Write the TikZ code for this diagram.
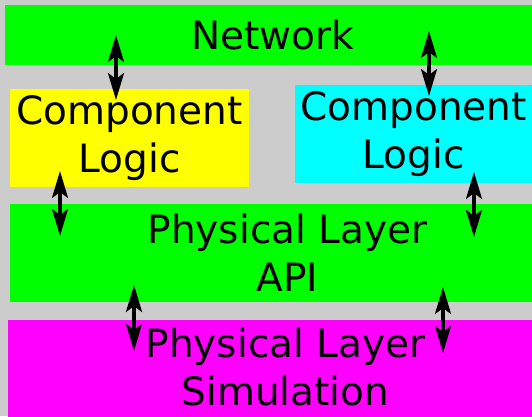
\documentclass[tikz,border=0pt]{standalone}
\usepackage{fontspec}
\setmainfont{DejaVu Sans}
\usetikzlibrary{arrows.meta}
\definecolor{bggray}{HTML}{CCCCCC}
\definecolor{netgreen}{HTML}{00FF00}
\definecolor{logicyellow}{HTML}{FFFF00}
\definecolor{logiccyan}{HTML}{00FFFF}
\definecolor{simmagenta}{HTML}{FF00FF}
\begin{document}
\begin{tikzpicture}[x=1pt,y=-1pt,
  layer/.style={rectangle, inner sep=0pt, outer sep=0pt, align=center,
    font=\fontsize{39}{48}\selectfont},
  link/.style={{Stealth[length=27pt,width=16pt,inset=6pt]}-{Stealth[length=27pt,width=16pt,inset=6pt]},
    line width=3.5pt}]
\useasboundingbox (0,0) rectangle (532,416);
\clip (0,0) rectangle (532,416);
\fill[bggray] (0,0) rectangle (532,416);

% layer boxes
\node[layer, fill=netgreen, minimum width=535pt, minimum height=60pt] (network) at (272.5,35) {Network};
\node[layer, fill=logicyellow, minimum width=239pt, minimum height=98pt] (logicA) at (129.5,138) {Component\\Logic};
\node[layer, fill=logiccyan, minimum width=237pt, minimum height=98pt] (logicB) at (413.5,134) {Component\\Logic};
\node[layer, fill=netgreen, minimum width=555pt, minimum height=98pt] (api) at (287.5,253) {Physical Layer\\API};
\node[layer, fill=simmagenta, minimum width=555pt, minimum height=100pt, text depth=6pt] (sim) at (285.5,370) {Physical Layer\\Simulation};

% link end points
\coordinate (n1) at (116,35);  \coordinate (la1) at (116,100);
\coordinate (n2) at (429,31);  \coordinate (lb1) at (429,96);
\coordinate (la2) at (60,171); \coordinate (a1) at (60,236);
\coordinate (lb2) at (474,172); \coordinate (a2) at (474,237);
\coordinate (a3) at (134,285); \coordinate (s1) at (134,351);
\coordinate (a4) at (443,287); \coordinate (s2) at (443,353);

% two-way links between layers
\draw[link] (n1) -- (la1);
\draw[link] (n2) -- (lb1);
\draw[link] (la2) -- (a1);
\draw[link] (lb2) -- (a2);
\draw[link] (a3) -- (s1);
\draw[link] (a4) -- (s2);
\end{tikzpicture}
\end{document}
